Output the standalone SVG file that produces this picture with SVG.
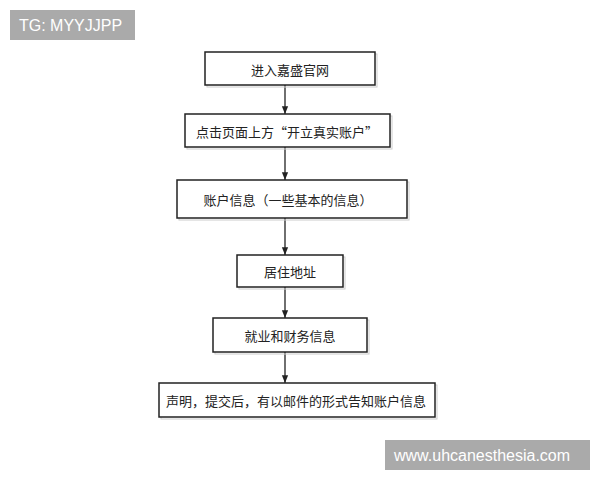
<svg xmlns="http://www.w3.org/2000/svg" width="600" height="480" viewBox="0 0 600 480">
<defs>
<marker id="ah" viewBox="0 0 10 10" refX="10" refY="5" markerWidth="6" markerHeight="6" orient="auto"><path d="M0,1 L10,5 L0,9 z" fill="#222"/></marker>
<style>
.box{fill:#fff;stroke:#222;stroke-width:1.5}
.sh{fill:none;stroke:#ccc;stroke-width:1}
.t{font-family:"Noto Sans CJK SC","Liberation Sans",sans-serif;font-size:13px;fill:#222;text-anchor:middle;dominant-baseline:central}
.c{stroke:#222;stroke-width:1.3;fill:none;marker-end:url(#ah)}
.wm{fill:#aaa}
.wt{font-family:"Liberation Sans",Arial,sans-serif;fill:#fff;font-size:16px;dominant-baseline:central}
</style>
</defs>
<rect width="600" height="480" fill="#fff"/>
<g id="connectors">
<line class="c" x1="285" y1="85" x2="285" y2="114"/>
<line class="c" x1="285" y1="147" x2="285" y2="180"/>
<line class="c" x1="285" y1="218" x2="285" y2="255"/>
<line class="c" x1="285" y1="287" x2="285" y2="318"/>
<line class="c" x1="285" y1="352" x2="285" y2="383"/>
</g>
<g id="n1"><rect class="sh" x="207" y="54" width="170" height="33"/><rect class="box" x="205" y="52" width="170" height="33"/><text class="t" x="290" y="69">进入嘉盛官网</text></g>
<g id="n2"><rect class="sh" x="187" y="116" width="205" height="33"/><rect class="box" x="185" y="114" width="205" height="33"/><text class="t" x="287" y="131">点击页面上方“开立真实账户”</text></g>
<g id="n3"><rect class="sh" x="179" y="182" width="230" height="38"/><rect class="box" x="177" y="180" width="230" height="38"/><text class="t" x="288" y="199">账户信息（一些基本的信息）</text></g>
<g id="n4"><rect class="sh" x="239" y="257" width="106" height="32"/><rect class="box" x="237" y="255" width="106" height="32"/><text class="t" x="290" y="271">居住地址</text></g>
<g id="n5"><rect class="sh" x="215" y="320" width="154" height="34"/><rect class="box" x="213" y="318" width="154" height="34"/><text class="t" x="290" y="335">就业和财务信息</text></g>
<g id="n6"><rect class="sh" x="161" y="385" width="276" height="34"/><rect class="box" x="159" y="383" width="276" height="34"/><text class="t" x="296" y="400">声明，提交后，有以邮件的形式告知账户信息</text></g>
<g id="wm1"><rect class="wm" x="10" y="10" width="125" height="30"/><text class="wt" x="19" y="25">TG: MYYJJPP</text></g>
<g id="wm2"><rect class="wm" x="385" y="440" width="205" height="30"/><text class="wt" x="394" y="455">www.uhcanesthesia.com</text></g>
</svg>
